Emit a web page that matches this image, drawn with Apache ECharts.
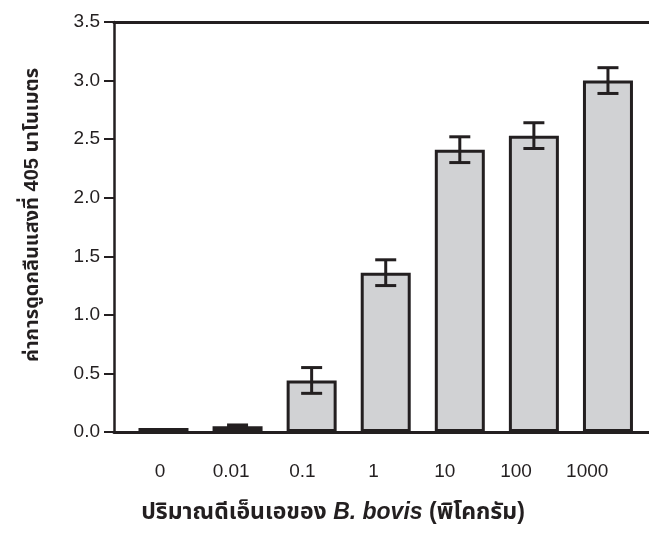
<!DOCTYPE html>
<html>
<head>
<meta charset="utf-8">
<script src="https://cdn.jsdelivr.net/npm/echarts@6/dist/echarts.min.js"></script>
<style>html,body{margin:0;padding:0;background:#fff;}#chart{width:649px;height:534px;}</style>
</head>
<body>
<div id="chart"></div>
<script>
const categories = ['0', '0.01', '0.1', '1', '10', '100', '1000'];
const means = [0.035, 0.05, 0.44, 1.36, 2.41, 2.53, 3.00];
const errors = [0, 0.01, 0.11, 0.11, 0.11, 0.11, 0.11];
const yTitle = 'ค่าการดูดกลืนแสงที่ 405 นาโนเมตร';
const xTitleA = 'ปริมาณดีเอ็นเอของ ';
const xTitleB = 'B. bovis';
const xTitleC = ' (พิโคกรัม)';

const FONT = "'Liberation Sans', Arial, 'Noto Sans Thai', 'Noto Sans', sans-serif";
const INK = '#231f20';

const barData = means.map((v, i) => [i, v]);
const errData = means.map((v, i) => [i, v, errors[i]]);

const chart = echarts.init(document.getElementById('chart'), null, {renderer: 'canvas'});
chart.setOption({
  animation: false,
  backgroundColor: '#ffffff',
  textStyle: {fontFamily: FONT, color: INK},
  grid: [
    {left: 114, right: 0, top: 22, bottom: 102},
    {left: 124.4, right: 26.2, top: 22, bottom: 102}
  ],
  xAxis: [
    {type: 'value', gridIndex: 0, min: -0.668, max: 6.554,
     axisLine: {show: true, onZero: false, lineStyle: {color: INK, width: 3}},
     axisTick: {show: false}, axisLabel: {show: false}, splitLine: {show: false}},
    {type: 'value', gridIndex: 0, position: 'top', min: -0.668, max: 6.554,
     axisLine: {show: true, onZero: false, lineStyle: {color: INK, width: 3}},
     axisTick: {show: false}, axisLabel: {show: false}, splitLine: {show: false}},
    {type: 'category', gridIndex: 1, data: categories,
     axisLine: {show: false}, axisTick: {show: false}, splitLine: {show: false},
     axisLabel: {show: true, fontSize: 19, color: INK, margin: 30, fontFamily: FONT}}
  ],
  yAxis: [
    {type: 'value', gridIndex: 0, min: 0, max: 3.5, interval: 0.5,
     axisLine: {show: true, onZero: false, lineStyle: {color: INK, width: 2.5}},
     axisTick: {show: true, inside: false, length: 10, lineStyle: {color: INK, width: 2}},
     axisLabel: {fontSize: 19, color: INK, margin: 14, fontFamily: FONT,
                 formatter: v => v.toFixed(1)},
     splitLine: {show: false}},
    {type: 'value', gridIndex: 1, show: false, min: 0, max: 3.5}
  ],
  series: [
    {type: 'bar', xAxisIndex: 0, yAxisIndex: 0, data: barData, barWidth: 50,
     itemStyle: {color: '#d1d2d4', borderColor: INK, borderWidth: 3}},
    {type: 'custom', xAxisIndex: 0, yAxisIndex: 0, data: errData, z: 5,
     renderItem: function (params, api) {
       const x = api.value(0), m = api.value(1), e = api.value(2);
       if (!e) return {type: 'group', children: []};
       const top = api.coord([x, m + e]);
       const bot = api.coord([x, m - e]);
       const hw = 10.5;
       const st = {stroke: INK, lineWidth: 3};
       return {type: 'group', children: [
         {type: 'line', shape: {x1: top[0], y1: top[1], x2: bot[0], y2: bot[1]}, style: st},
         {type: 'line', shape: {x1: top[0] - hw, y1: top[1], x2: top[0] + hw, y2: top[1]}, style: st},
         {type: 'line', shape: {x1: bot[0] - hw, y1: bot[1], x2: bot[0] + hw, y2: bot[1]}, style: st}
       ]};
     }}
  ],
  graphic: [
    {type: 'text', x: 32, y: 215, rotation: Math.PI / 2,
     style: {text: yTitle, fill: INK, font: "bold 20px " + FONT, align: 'center', verticalAlign: 'middle'}},
    {type: 'text', x: 333, y: 513,
     style: {text: '{a|' + xTitleA + '}{b|' + xTitleB + '}{a|' + xTitleC + '}',
       align: 'center', verticalAlign: 'middle', fill: INK,
       rich: {a: {fontWeight: 'bold', fontSize: 23, fontFamily: FONT, fill: INK},
              b: {fontWeight: 'bold', fontStyle: 'italic', fontSize: 23, fontFamily: FONT, fill: INK}}}}
  ]
});
</script>
</body>
</html>
